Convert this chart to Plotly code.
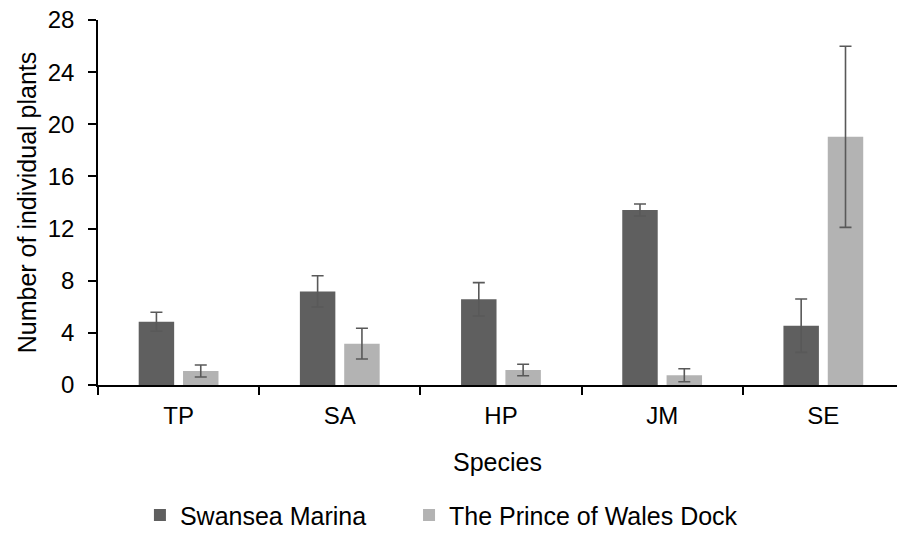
import plotly.graph_objects as go

species = ["TP", "SA", "HP", "JM", "SE"]
swansea = [4.85, 7.18, 6.57, 13.42, 4.55]
swansea_err = [0.73, 1.2, 1.28, 0.46, 2.05]
wales = [1.07, 3.17, 1.15, 0.75, 19.04]
wales_err = [0.46, 1.18, 0.44, 0.5, 6.95]
y_ticks = [0, 4, 8, 12, 16, 20, 24, 28]

fam = "Liberation Sans, Arial, sans-serif"
def f(size):
    return dict(family=fam, size=size, color="#000000")
err_style = dict(type="data", thickness=1.6, width=6, color="#595959")

fig = go.Figure()
fig.add_trace(go.Bar(x=species, y=swansea, name="Swansea Marina",
                     marker=dict(color="#5f5f5f", line=dict(width=0)),
                     error_y=dict(array=swansea_err, **err_style), legend="legend"))
fig.add_trace(go.Bar(x=species, y=wales, name="The Prince of Wales Dock",
                     marker=dict(color="#b3b3b3", line=dict(width=0)),
                     error_y=dict(array=wales_err, **err_style), legend="legend2"))

leg_common = dict(orientation="h", xref="container", yref="container",
                  xanchor="left", y=0.046, yanchor="middle", font=f(25),
                  itemwidth=30, borderwidth=0, bgcolor="rgba(0,0,0,0)")

fig.update_layout(
    template="none",
    width=897, height=540,
    margin=dict(l=98, r=0, t=20, b=155),
    paper_bgcolor="white", plot_bgcolor="white",
    font=f(24),
    barmode="group", bargap=0.45, bargroupgap=0.2,
    showlegend=True,
    legend=dict(x=0.156, **leg_common),
    legend2=dict(x=0.456, **leg_common),
)
fig.update_xaxes(
    range=[-0.5, 4.457], showline=True, linecolor="#000000", linewidth=1.5,
    ticks="outside", tickson="boundaries", ticklen=8, tickcolor="#000000", tickwidth=1.5,
    tickfont=f(24), ticklabelstandoff=8,
    title=dict(text="Species", standoff=26, font=f(25)),
    showgrid=False, zeroline=False,
)
fig.update_yaxes(
    range=[0, 28], tickvals=y_ticks, showline=True, linecolor="#000000", linewidth=1.5,
    ticks="outside", ticklen=8, tickcolor="#000000", tickwidth=1.5,
    tickfont=f(24), ticklabelstandoff=9,
    title=dict(text="Number of individual plants", standoff=4, font=f(25)),
    showgrid=False, zeroline=False,
)

fig.write_html("out.html")
